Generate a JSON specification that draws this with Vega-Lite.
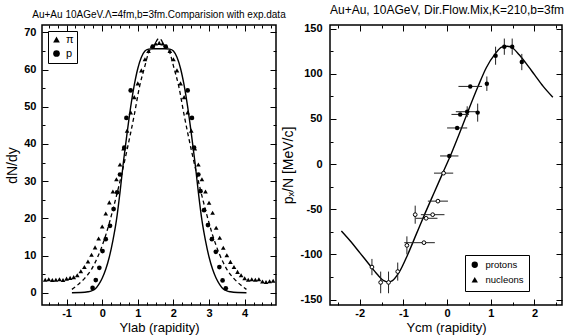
{
  "$schema": "https://vega.github.io/schema/vega-lite/v6.json",
  "background": "white",
  "padding": {"left": 5, "top": 2, "right": 0, "bottom": 0},
  "bounds": "flush",
  "spacing": 54,
  "resolve": {"scale": {"shape": "independent"}, "legend": {"shape": "independent"}},
  "config": {
    "view": {"stroke": "black", "strokeWidth": 1.5},
    "axis": {"domain": false, "grid": false, "tickColor": "black", "tickWidth": 1, "labelColor": "black", "labelFont": "Liberation Sans", "labelFontSize": 11, "labelFontWeight": "bold", "titleFont": "Liberation Sans", "titleFontSize": 14, "titleFontWeight": "normal", "titleColor": "black", "labelOverlap": false, "labelFlush": false},
    "title": {"color": "black", "font": "Liberation Sans", "fontWeight": "normal"},
    "legend": {"labelFont": "Liberation Sans", "labelColor": "black", "strokeColor": "black", "fillColor": "white", "symbolFillColor": "black", "symbolStrokeColor": "black"}
  },
  "datasets": {
    "L_pts": [
      {"rap": -1.6, "val": 3.5, "kind": "π"}, {"rap": -1.5, "val": 3.6, "kind": "π"}, {"rap": -1.4, "val": 3.4, "kind": "π"}, {"rap": -1.3, "val": 3.5, "kind": "π"}, {"rap": -1.2, "val": 3.6, "kind": "π"}, {"rap": -1.1, "val": 3.4, "kind": "π"}, {"rap": -1.0, "val": 3.8, "kind": "π"}, {"rap": -0.9, "val": 4.0, "kind": "π"}, {"rap": -0.8, "val": 4.2, "kind": "π"}, {"rap": -0.7, "val": 4.7, "kind": "π"}, {"rap": -0.6, "val": 5.8, "kind": "π"}, {"rap": -0.5, "val": 6.9, "kind": "π"}, {"rap": -0.4, "val": 8.4, "kind": "π"}, {"rap": -0.3, "val": 10.2, "kind": "π"}, {"rap": -0.2, "val": 12.2, "kind": "π"}, {"rap": -0.1, "val": 14.6, "kind": "π"}, {"rap": 0.0, "val": 17.8, "kind": "π"}, {"rap": 0.1, "val": 21.3, "kind": "π"}, {"rap": 0.2, "val": 24.3, "kind": "π"}, {"rap": 0.3, "val": 27.2, "kind": "π"}, {"rap": 0.4, "val": 30.5, "kind": "π"}, {"rap": 0.5, "val": 34.5, "kind": "π"}, {"rap": 0.6, "val": 38.8, "kind": "π"}, {"rap": 0.7, "val": 43.6, "kind": "π"}, {"rap": 0.8, "val": 48.5, "kind": "π"}, {"rap": 0.9, "val": 52.6, "kind": "π"}, {"rap": 1.0, "val": 56.3, "kind": "π"}, {"rap": 1.1, "val": 59.8, "kind": "π"}, {"rap": 1.2, "val": 62.8, "kind": "π"}, {"rap": 1.3, "val": 65.0, "kind": "π"}, {"rap": 1.4, "val": 66.3, "kind": "π"}, {"rap": 1.5, "val": 67.0, "kind": "π"}, {"rap": 1.6, "val": 67.2, "kind": "π"}, {"rap": 1.7, "val": 67.0, "kind": "π"}, {"rap": 1.8, "val": 66.3, "kind": "π"}, {"rap": 1.9, "val": 65.0, "kind": "π"}, {"rap": 2.0, "val": 62.8, "kind": "π"}, {"rap": 2.1, "val": 59.8, "kind": "π"}, {"rap": 2.2, "val": 56.3, "kind": "π"}, {"rap": 2.3, "val": 52.6, "kind": "π"}, {"rap": 2.4, "val": 48.5, "kind": "π"}, {"rap": 2.5, "val": 43.6, "kind": "π"}, {"rap": 2.6, "val": 38.8, "kind": "π"}, {"rap": 2.7, "val": 34.5, "kind": "π"}, {"rap": 2.8, "val": 30.5, "kind": "π"}, {"rap": 2.9, "val": 27.2, "kind": "π"}, {"rap": 3.0, "val": 24.2, "kind": "π"}, {"rap": 3.1, "val": 21.5, "kind": "π"}, {"rap": 3.2, "val": 17.5, "kind": "π"}, {"rap": 3.3, "val": 14.8, "kind": "π"}, {"rap": 3.4, "val": 12.1, "kind": "π"}, {"rap": 3.5, "val": 10.1, "kind": "π"}, {"rap": 3.6, "val": 8.3, "kind": "π"}, {"rap": 3.7, "val": 6.9, "kind": "π"}, {"rap": 3.8, "val": 5.6, "kind": "π"}, {"rap": 3.9, "val": 4.7, "kind": "π"}, {"rap": 4.0, "val": 3.9, "kind": "π"}, {"rap": 4.1, "val": 3.5, "kind": "π"}, {"rap": 4.2, "val": 3.6, "kind": "π"}, {"rap": 4.3, "val": 3.5, "kind": "π"}, {"rap": 4.4, "val": 3.6, "kind": "π"}, {"rap": 4.5, "val": 3.0, "kind": "π"}, {"rap": 4.6, "val": 2.9, "kind": "π"}, {"rap": 4.7, "val": 3.1, "kind": "π"}, {"rap": 4.8, "val": 3.2, "kind": "π"},
      {"rap": -0.27, "val": 1.3, "kind": "p"}, {"rap": -0.18, "val": 3.4, "kind": "p"}, {"rap": -0.08, "val": 6.7, "kind": "p"}, {"rap": 0.01, "val": 11.2, "kind": "p"}, {"rap": 0.1, "val": 14.4, "kind": "p"}, {"rap": 0.22, "val": 18.0, "kind": "p"}, {"rap": 0.32, "val": 22.5, "kind": "p"}, {"rap": 0.42, "val": 27.0, "kind": "p"}, {"rap": 0.5, "val": 31.8, "kind": "p"}, {"rap": 0.62, "val": 39.0, "kind": "p"}, {"rap": 0.68, "val": 47.0, "kind": "p"}, {"rap": 0.8, "val": 54.4, "kind": "p"}, {"rap": 1.42, "val": 66.2, "kind": "p"}, {"rap": 1.78, "val": 66.2, "kind": "p"}, {"rap": 2.4, "val": 54.4, "kind": "p"}, {"rap": 2.52, "val": 47.0, "kind": "p"}, {"rap": 2.58, "val": 39.0, "kind": "p"}, {"rap": 2.7, "val": 31.8, "kind": "p"}, {"rap": 2.76, "val": 27.3, "kind": "p"}, {"rap": 2.86, "val": 22.2, "kind": "p"}, {"rap": 2.97, "val": 18.2, "kind": "p"}, {"rap": 3.08, "val": 14.4, "kind": "p"}, {"rap": 3.19, "val": 11.0, "kind": "p"}, {"rap": 3.29, "val": 6.9, "kind": "p"}, {"rap": 3.38, "val": 3.3, "kind": "p"}, {"rap": 3.47, "val": 1.2, "kind": "p"}
    ],
    "L_solid": [
      {"rap": -0.85, "val": 0}, {"rap": -0.6, "val": 0.05}, {"rap": -0.4, "val": 0.25}, {"rap": -0.3, "val": 0.5}, {"rap": -0.2, "val": 1.0}, {"rap": -0.1, "val": 2.2}, {"rap": 0.0, "val": 3.9}, {"rap": 0.1, "val": 6.3}, {"rap": 0.2, "val": 9.6}, {"rap": 0.3, "val": 14.0}, {"rap": 0.4, "val": 19.5}, {"rap": 0.5, "val": 27.0}, {"rap": 0.6, "val": 35.5}, {"rap": 0.7, "val": 43.0}, {"rap": 0.8, "val": 50.0}, {"rap": 0.9, "val": 55.8}, {"rap": 1.0, "val": 60.3}, {"rap": 1.1, "val": 63.3}, {"rap": 1.2, "val": 65.0}, {"rap": 1.3, "val": 65.5}, {"rap": 1.45, "val": 65.6}, {"rap": 1.6, "val": 65.6}, {"rap": 1.75, "val": 65.6}, {"rap": 1.9, "val": 65.5}, {"rap": 2.0, "val": 65.0}, {"rap": 2.1, "val": 63.3}, {"rap": 2.2, "val": 60.3}, {"rap": 2.3, "val": 55.8}, {"rap": 2.4, "val": 50.0}, {"rap": 2.5, "val": 43.0}, {"rap": 2.6, "val": 35.5}, {"rap": 2.7, "val": 27.0}, {"rap": 2.8, "val": 19.5}, {"rap": 2.9, "val": 14.0}, {"rap": 3.0, "val": 9.6}, {"rap": 3.1, "val": 6.3}, {"rap": 3.2, "val": 3.9}, {"rap": 3.3, "val": 2.2}, {"rap": 3.4, "val": 1.0}, {"rap": 3.5, "val": 0.5}, {"rap": 3.6, "val": 0.25}, {"rap": 3.8, "val": 0.05}, {"rap": 4.05, "val": 0}
    ],
    "L_dash": [
      {"rap": -0.85, "val": 0.9}, {"rap": -0.7, "val": 2.0}, {"rap": -0.5, "val": 3.8}, {"rap": -0.3, "val": 6.3}, {"rap": -0.1, "val": 10.2}, {"rap": 0.1, "val": 15.5}, {"rap": 0.3, "val": 22.3}, {"rap": 0.5, "val": 30.0}, {"rap": 0.7, "val": 38.5}, {"rap": 0.9, "val": 47.8}, {"rap": 1.05, "val": 55.5}, {"rap": 1.2, "val": 61.0}, {"rap": 1.3, "val": 64.5}, {"rap": 1.4, "val": 66.0}, {"rap": 1.47, "val": 66.5}, {"rap": 1.53, "val": 67.8}, {"rap": 1.6, "val": 68.4}, {"rap": 1.67, "val": 67.8}, {"rap": 1.73, "val": 66.5}, {"rap": 1.8, "val": 66.0}, {"rap": 1.9, "val": 64.5}, {"rap": 2.0, "val": 61.0}, {"rap": 2.15, "val": 55.5}, {"rap": 2.3, "val": 47.8}, {"rap": 2.5, "val": 38.5}, {"rap": 2.7, "val": 30.0}, {"rap": 2.9, "val": 22.3}, {"rap": 3.1, "val": 15.5}, {"rap": 3.3, "val": 10.2}, {"rap": 3.5, "val": 6.3}, {"rap": 3.7, "val": 3.8}, {"rap": 3.9, "val": 2.0}, {"rap": 4.05, "val": 0.9}
    ],
    "R_curve": [
      {"Y": -2.42, "v": -74}, {"Y": -2.2, "v": -86}, {"Y": -2.0, "v": -98}, {"Y": -1.8, "v": -110}, {"Y": -1.6, "v": -122}, {"Y": -1.45, "v": -129}, {"Y": -1.35, "v": -130.5}, {"Y": -1.25, "v": -129}, {"Y": -1.1, "v": -120}, {"Y": -0.9, "v": -100}, {"Y": -0.7, "v": -77}, {"Y": -0.5, "v": -54}, {"Y": -0.3, "v": -32}, {"Y": -0.1, "v": -10}, {"Y": 0.1, "v": 12}, {"Y": 0.3, "v": 36}, {"Y": 0.5, "v": 61}, {"Y": 0.7, "v": 85}, {"Y": 0.9, "v": 107}, {"Y": 1.1, "v": 122}, {"Y": 1.25, "v": 129.5}, {"Y": 1.38, "v": 130.5}, {"Y": 1.5, "v": 128.5}, {"Y": 1.65, "v": 121}, {"Y": 1.8, "v": 112}, {"Y": 2.0, "v": 99}, {"Y": 2.2, "v": 86}, {"Y": 2.42, "v": 74}
    ],
    "R_pts": [
      {"Y": -1.72, "v": -114, "xlo": -1.72, "xhi": -1.72, "vlo": -123, "vhi": -105, "kind": "nucleons"},
      {"Y": -1.52, "v": -131, "xlo": -1.52, "xhi": -1.52, "vlo": -143, "vhi": -119, "kind": "nucleons"},
      {"Y": -1.34, "v": -131, "xlo": -1.34, "xhi": -1.34, "vlo": -143, "vhi": -119, "kind": "nucleons"},
      {"Y": -1.13, "v": -119, "xlo": -1.13, "xhi": -1.13, "vlo": -129, "vhi": -109, "kind": "nucleons"},
      {"Y": -0.92, "v": -90, "xlo": -0.92, "xhi": -0.92, "vlo": -100, "vhi": -80, "kind": "nucleons"},
      {"Y": -0.73, "v": -56, "xlo": -0.73, "xhi": -0.73, "vlo": -66, "vhi": -46, "kind": "nucleons"},
      {"Y": -0.53, "v": -87, "xlo": -0.98, "xhi": -0.28, "vlo": -87, "vhi": -87, "kind": "nucleons"},
      {"Y": -0.48, "v": -60, "xlo": -0.72, "xhi": -0.22, "vlo": -60, "vhi": -60, "kind": "nucleons"},
      {"Y": -0.33, "v": -56, "xlo": -0.6, "xhi": -0.06, "vlo": -56, "vhi": -56, "kind": "nucleons"},
      {"Y": -0.21, "v": -41, "xlo": -0.44, "xhi": 0.02, "vlo": -41, "vhi": -41, "kind": "nucleons"},
      {"Y": -0.08, "v": -10, "xlo": -0.3, "xhi": 0.14, "vlo": -10, "vhi": -10, "kind": "nucleons"},
      {"Y": 0.05, "v": 9, "xlo": -0.16, "xhi": 0.26, "vlo": 9, "vhi": 9, "kind": "protons"},
      {"Y": 0.23, "v": 40, "xlo": 0.0, "xhi": 0.46, "vlo": 40, "vhi": 40, "kind": "protons"},
      {"Y": 0.3, "v": 55, "xlo": 0.1, "xhi": 0.5, "vlo": 55, "vhi": 55, "kind": "protons"},
      {"Y": 0.46, "v": 58, "xlo": 0.2, "xhi": 0.72, "vlo": 52, "vhi": 64, "kind": "protons"},
      {"Y": 0.7, "v": 57, "xlo": 0.7, "xhi": 0.7, "vlo": 47, "vhi": 67, "kind": "protons"},
      {"Y": 0.53, "v": 86, "xlo": 0.26, "xhi": 0.8, "vlo": 86, "vhi": 86, "kind": "protons"},
      {"Y": 0.91, "v": 89, "xlo": 0.91, "xhi": 0.91, "vlo": 81, "vhi": 97, "kind": "protons"},
      {"Y": 1.11, "v": 120, "xlo": 1.11, "xhi": 1.11, "vlo": 110, "vhi": 130, "kind": "protons"},
      {"Y": 1.31, "v": 130, "xlo": 1.31, "xhi": 1.31, "vlo": 121, "vhi": 139, "kind": "protons"},
      {"Y": 1.49, "v": 130, "xlo": 1.49, "xhi": 1.49, "vlo": 121, "vhi": 139, "kind": "protons"},
      {"Y": 1.71, "v": 113, "xlo": 1.71, "xhi": 1.71, "vlo": 104, "vhi": 122, "kind": "protons"}
    ]
  },
  "hconcat": [
    {
      "width": 234,
      "height": 280,
      "title": {"text": "Au+Au 10AGeV.Λ=4fm,b=3fm.Comparision with exp.data", "fontSize": 10, "anchor": "middle", "frame": "group", "offset": 5},
      "layer": [
        {
          "data": {"name": "L_pts"},
          "mark": {"type": "point", "filled": true, "color": "black", "size": 22, "opacity": 1},
          "encoding": {
            "x": {"field": "rap", "type": "quantitative", "scale": {"domain": [-1.69, 4.88], "nice": false, "zero": false},
              "axis": {"orient": "bottom", "values": [-1.5, -1.25, -1, -0.75, -0.5, -0.25, 0, 0.25, 0.5, 0.75, 1, 1.25, 1.5, 1.75, 2, 2.25, 2.5, 2.75, 3, 3.25, 3.5, 3.75, 4, 4.25, 4.5, 4.75],
                "labelExpr": "datum.value % 1 === 0 ? '' + datum.value : ''",
                "tickSize": {"condition": {"test": "datum.value % 1 === 0", "value": -6}, "value": -3},
                "labelPadding": 8, "title": "Ylab (rapidity)", "titlePadding": 0, "titleFontSize": 13}},
            "y": {"field": "val", "type": "quantitative", "scale": {"domain": [-3.3, 72], "nice": false, "zero": false},
              "axis": {"orient": "left", "values": [0, 5, 10, 15, 20, 25, 30, 35, 40, 45, 50, 55, 60, 65, 70],
                "labelExpr": "datum.value % 10 === 0 ? '' + datum.value : ''",
                "tickSize": {"condition": {"test": "datum.value % 10 === 0", "value": -6}, "value": -3},
                "labelPadding": 12, "title": "dN/dy", "titlePadding": 4}},
            "shape": {"field": "kind", "type": "nominal", "scale": {"domain": ["π", "p"], "range": ["triangle-up", "circle"]},
              "legend": {"orient": "none", "legendX": 6, "legendY": 6, "title": null, "padding": 3, "labelFontSize": 11, "symbolSize": 45, "rowPadding": 1, "labelOffset": 4, "strokeColor": "black"}}
          }
        },
        {
          "data": {"name": "L_solid"},
          "mark": {"type": "line", "color": "black", "strokeWidth": 1.4, "interpolate": "monotone"},
          "encoding": {
            "x": {"field": "rap", "type": "quantitative", "axis": {"orient": "top", "values": [-1.5, -1.25, -1, -0.75, -0.5, -0.25, 0, 0.25, 0.5, 0.75, 1, 1.25, 1.5, 1.75, 2, 2.25, 2.5, 2.75, 3, 3.25, 3.5, 3.75, 4, 4.25, 4.5, 4.75], "labels": false, "title": null,
              "tickSize": {"condition": {"test": "datum.value % 1 === 0", "value": -6}, "value": -3}}},
            "y": {"field": "val", "type": "quantitative", "axis": {"orient": "right", "values": [0, 5, 10, 15, 20, 25, 30, 35, 40, 45, 50, 55, 60, 65, 70], "labels": false, "title": null,
              "tickSize": {"condition": {"test": "datum.value % 10 === 0", "value": -6}, "value": -3}}}
          }
        },
        {
          "data": {"name": "L_dash"},
          "mark": {"type": "line", "color": "black", "strokeWidth": 1.3, "strokeDash": [4, 3], "interpolate": "monotone"},
          "encoding": {
            "x": {"field": "rap", "type": "quantitative", "axis": null},
            "y": {"field": "val", "type": "quantitative", "axis": null}
          }
        }
      ],
      "resolve": {"axis": {"x": "independent", "y": "independent"}}
    },
    {
      "width": 232,
      "height": 280,
      "title": {"text": "Au+Au, 10AGeV, Dir.Flow.Mix,K=210,b=3fm", "fontSize": 12, "anchor": "start", "frame": "group", "offset": 6},
      "layer": [
        {
          "data": {"name": "R_curve"},
          "mark": {"type": "line", "color": "black", "strokeWidth": 1.4, "interpolate": "monotone"},
          "encoding": {
            "x": {"field": "Y", "type": "quantitative", "scale": {"domain": [-2.68, 2.63], "nice": false, "zero": false},
              "axis": {"orient": "bottom", "values": [-2.5, -2, -1.5, -1, -0.5, 0, 0.5, 1, 1.5, 2, 2.5],
                "labelExpr": "datum.value % 1 === 0 ? '' + datum.value : ''",
                "tickSize": {"condition": {"test": "datum.value % 1 === 0", "value": -6}, "value": -3},
                "labelPadding": 8, "title": "Ycm (rapidity)", "titlePadding": 0, "titleFontSize": 13}},
            "y": {"field": "v", "type": "quantitative", "scale": {"domain": [-156, 154], "nice": false, "zero": false},
              "axis": {"orient": "left", "values": [-150, -125, -100, -75, -50, -25, 0, 25, 50, 75, 100, 125, 150],
                "labelExpr": "datum.value % 50 === 0 ? '' + datum.value : ''",
                "tickSize": {"condition": {"test": "datum.value % 50 === 0", "value": -6}, "value": -3},
                "labelPadding": 14, "title": "pₓ/N [MeV/c]", "titlePadding": 4}}
          }
        },
        {
          "data": {"name": "R_pts"},
          "transform": [{"filter": "datum.xhi > datum.xlo"}],
          "mark": {"type": "rule", "color": "#222", "strokeWidth": 1},
          "encoding": {
            "x": {"field": "xlo", "type": "quantitative", "axis": {"orient": "top", "values": [-2.5, -2, -1.5, -1, -0.5, 0, 0.5, 1, 1.5, 2, 2.5], "labels": false, "title": null,
              "tickSize": {"condition": {"test": "datum.value % 1 === 0", "value": -6}, "value": -3}}},
            "x2": {"field": "xhi"},
            "y": {"field": "v", "type": "quantitative", "axis": {"orient": "right", "values": [-150, -125, -100, -75, -50, -25, 0, 25, 50, 75, 100, 125, 150], "labels": false, "title": null,
              "tickSize": {"condition": {"test": "datum.value % 50 === 0", "value": -6}, "value": -3}}}
          }
        },
        {
          "data": {"name": "R_pts"},
          "transform": [{"filter": "datum.vhi > datum.vlo"}],
          "mark": {"type": "rule", "color": "#222", "strokeWidth": 1},
          "encoding": {
            "x": {"field": "Y", "type": "quantitative", "axis": null},
            "y": {"field": "vlo", "type": "quantitative", "axis": null},
            "y2": {"field": "vhi"}
          }
        },
        {
          "data": {"name": "R_pts"},
          "transform": [{"filter": "datum.kind === 'nucleons'"}],
          "mark": {"type": "point", "filled": true, "fill": "white", "stroke": "black", "strokeWidth": 1, "size": 14, "opacity": 1},
          "encoding": {
            "x": {"field": "Y", "type": "quantitative", "axis": null},
            "y": {"field": "v", "type": "quantitative", "axis": null}
          }
        },
        {
          "data": {"name": "R_pts"},
          "transform": [{"filter": "datum.kind === 'protons'"}],
          "mark": {"type": "point", "filled": true, "color": "black", "size": 20, "opacity": 1},
          "encoding": {
            "x": {"field": "Y", "type": "quantitative", "axis": null},
            "y": {"field": "v", "type": "quantitative", "axis": null},
            "shape": {"field": "kind", "type": "nominal", "scale": {"domain": ["protons", "nucleons"], "range": ["circle", "triangle-up"]},
              "legend": {"orient": "none", "legendX": 135, "legendY": 230, "title": null, "padding": 5, "labelFontSize": 9.5, "symbolSize": 40, "rowPadding": 3, "labelOffset": 6, "strokeColor": "black"}}
          }
        }
      ],
      "resolve": {"axis": {"x": "independent", "y": "independent"}}
    }
  ]
}
